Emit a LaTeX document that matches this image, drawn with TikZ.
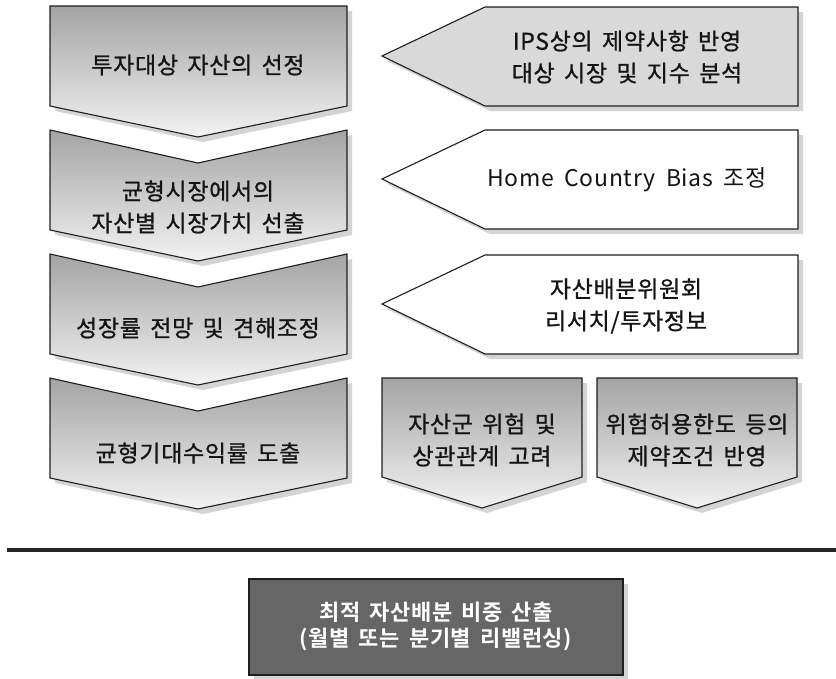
\documentclass[tikz,border=0pt]{standalone}
\usepackage{fontspec}
\setmainfont{Noto Sans CJK KR}
\newfontfamily\krmed[FakeBold=0.9, LetterSpace=3, WordSpace=1.6]{Noto Sans CJK KR}
\newfontfamily\krreg[LetterSpace=3, WordSpace=1.8]{Noto Sans CJK KR}
\newfontfamily\krbold[LetterSpace=3, WordSpace=1.6]{Noto Sans CJK KR Bold}
\definecolor{shadowgray}{HTML}{D4D4D4}
\definecolor{chevtop}{HTML}{A4A4A4}
\definecolor{chevbot}{HTML}{F2F2F2}
\definecolor{arrowgray}{HTML}{D9D9D9}
\definecolor{boxdark}{HTML}{666666}
\definecolor{edge}{HTML}{1E1E1E}
\tikzset{
  shapeedge/.style={draw=edge, line width=1.1pt, line join=miter},
  chevfill/.style={shapeedge, top color=chevtop, bottom color=chevbot},
  shadowfill/.style={fill=shadowgray, draw=none},
  lbl/.style={align=center, text=black!92, font=\krmed\fontsize{23}{32}\selectfont, inner sep=0pt},
  lblreg/.style={align=center, text=black!92, font=\krreg\fontsize{23}{32}\selectfont, inner sep=0pt},
  lblwhite/.style={align=center, text=white, font=\krbold\fontsize{22}{26}\selectfont, inner sep=0pt},
}
\begin{document}
\begin{tikzpicture}[x=1pt, y=-1pt]
\useasboundingbox (0,0) rectangle (836,678);

% ---------- left chevrons ----------
% shadows
\fill[shadowfill, shift={(5,5)}] (50,6) -- (347,6) -- (347,106) -- (198,137) -- (50,106) -- cycle;
\foreach \t in {130,254,378}{
  \fill[shadowfill, shift={(5,5)}] (50,\t) -- (198,\t+33) -- (347,\t) -- (347,\t+100) -- (198,\t+131) -- (50,\t+100) -- cycle;
}
\path[chevfill] (50,6) -- (347,6) -- (347,106) -- (198,137) -- (50,106) -- cycle;
\foreach \t in {130,254,378}{
  \path[chevfill] (50,\t) -- (198,\t+33) -- (347,\t) -- (347,\t+100) -- (198,\t+131) -- (50,\t+100) -- cycle;
}

% ---------- right arrows ----------
\foreach \t in {7,130,255}{
  \fill[shadowfill, shift={(5,5)}] (382,\t+49) -- (485,\t) -- (798,\t) -- (798,\t+99) -- (485,\t+99) -- cycle;
}
\path[shapeedge, fill=arrowgray] (382,56) -- (485,7) -- (798,7) -- (798,106) -- (485,106) -- cycle;
\path[shapeedge, fill=white] (382,179) -- (485,130) -- (798,130) -- (798,229) -- (485,229) -- cycle;
\path[shapeedge, fill=white] (382,304) -- (485,255) -- (798,255) -- (798,354) -- (485,354) -- cycle;

% ---------- bottom-right pentagons ----------
\fill[shadowfill, shift={(5,5)}] (382,378) -- (582,378) -- (582,477) -- (482,508) -- (382,477) -- cycle;
\fill[shadowfill, shift={(5,5)}] (597,378) -- (797,378) -- (797,477) -- (697,508) -- (597,477) -- cycle;
\path[chevfill] (382,378) -- (582,378) -- (582,477) -- (482,508) -- (382,477) -- cycle;
\path[chevfill] (597,378) -- (797,378) -- (797,477) -- (697,508) -- (597,477) -- cycle;

% ---------- separator ----------
\coordinate (sepL) at (7,550);
\coordinate (sepR) at (836,550);
\draw[line width=4pt, draw=black!85] (sepL) -- (sepR);

% ---------- result box ----------
\fill[shadowfill] (254,584) rectangle (628,680);
\path[shapeedge, fill=boxdark] (249,579) rectangle (623,675);

% ---------- labels ----------
\node[lbl] (c1) at (198,65) {투자대상 자산의 선정};
\node[lbl] (c2) at (198,207) {균형시장에서의\\자산별 시장가치 선출};
\node[lbl] (c3) at (198,328) {성장률 전망 및 견해조정};
\node[lbl] (c4) at (198,453) {균형기대수익률 도출};

\node[lbl] (r1) at (627,57) {IPS상의 제약사항 반영\\대상 시장 및 지수 분석};
\node[lblreg] (r2) at (627,180) {Home Country Bias 조정};
\node[lbl] (r3) at (626,306) {자산배분위원회\\리서치/투자정보};

\node[lbl] (b1) at (482,440) {자산군 위험 및\\상관관계 고려};
\node[lbl] (b2) at (697,440) {위험허용한도 등의\\제약조건 반영};

\node[lblwhite] (res) at (436,626) {최적 자산배분 비중 산출\\(월별 또는 분기별 리밸런싱)};
\end{tikzpicture}
\end{document}
